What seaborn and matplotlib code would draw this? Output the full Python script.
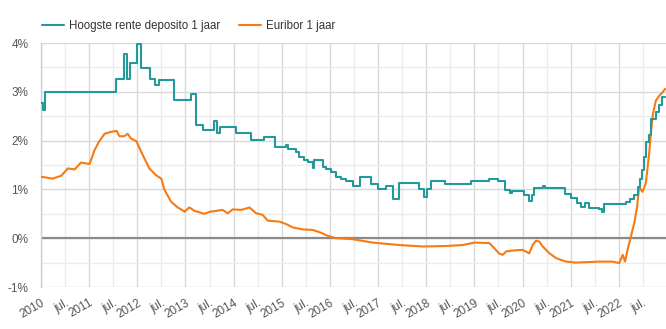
import matplotlib
matplotlib.use("Agg")
import matplotlib.pyplot as plt
import seaborn as sns
import pandas as pd
import numpy as np

# Hoogste rente deposito 1 jaar (step series: year, %)
dep_year = [2010.00, 2010.04, 2010.09, 2011.55, 2011.72, 2011.79, 2011.84, 2012.00, 2012.08,
            2012.27, 2012.36, 2012.45, 2012.77, 2013.12, 2013.22, 2013.36, 2013.60, 2013.65,
            2013.71, 2014.06, 2014.36, 2014.64, 2014.86, 2015.09, 2015.12, 2015.30, 2015.35,
            2015.47, 2015.54, 2015.64, 2015.68, 2015.85, 2015.92, 2016.02, 2016.13, 2016.23,
            2016.34, 2016.47, 2016.63, 2016.85, 2016.99, 2017.17, 2017.30, 2017.43, 2017.84,
            2017.96, 2018.02, 2018.10, 2018.38, 2018.93, 2019.31, 2019.50, 2019.64, 2019.74,
            2019.79, 2020.04, 2020.13, 2020.19, 2020.24, 2020.42, 2020.47, 2020.89, 2021.01,
            2021.14, 2021.21, 2021.30, 2021.39, 2021.59, 2021.66, 2021.70, 2022.15, 2022.24,
            2022.32, 2022.39, 2022.45, 2022.49, 2022.53, 2022.56, 2022.63, 2022.67, 2022.77,
            2022.84, 2022.90, 2022.96]
dep_rate = [2.77, 2.62, 3.00, 3.27, 3.78, 3.27, 3.58, 3.97, 3.48,
            3.27, 3.13, 3.24, 2.83, 2.96, 2.31, 2.22, 2.41, 2.16,
            2.28, 2.16, 2.01, 2.07, 1.87, 1.92, 1.82, 1.77, 1.67,
            1.61, 1.56, 1.43, 1.61, 1.46, 1.41, 1.36, 1.26, 1.22,
            1.17, 1.07, 1.26, 1.11, 1.01, 1.07, 0.80, 1.13, 1.01,
            0.84, 1.01, 1.17, 1.12, 1.17, 1.22, 1.17, 0.99, 0.92,
            0.97, 0.88, 0.77, 0.88, 1.02, 1.07, 1.02, 0.90, 0.82,
            0.73, 0.63, 0.73, 0.62, 0.59, 0.53, 0.70, 0.75, 0.80,
            0.88, 1.05, 1.22, 1.39, 1.67, 1.97, 2.11, 2.45, 2.58,
            2.72, 2.89, 2.89]

# Euribor 1 jaar (year, %)
eur_year = [2010.00, 2010.24, 2010.42, 2010.56, 2010.70, 2010.83, 2011.01, 2011.11, 2011.20,
            2011.32, 2011.46, 2011.57, 2011.63, 2011.73, 2011.80, 2011.87, 2011.98, 2012.08,
            2012.25, 2012.39, 2012.50, 2012.56, 2012.70, 2012.84, 2012.96, 2012.98, 2013.08,
            2013.19, 2013.39, 2013.50, 2013.77, 2013.88, 2013.98, 2014.16, 2014.33, 2014.47,
            2014.60, 2014.71, 2014.95, 2015.09, 2015.23, 2015.43, 2015.64, 2015.82, 2015.95,
            2016.13, 2016.47, 2016.89, 2017.44, 2017.93, 2018.41, 2018.76, 2019.00, 2019.31,
            2019.41, 2019.52, 2019.59, 2019.66, 2019.83, 2020.00, 2020.14, 2020.21, 2020.28,
            2020.35, 2020.42, 2020.56, 2020.70, 2020.90, 2021.11, 2021.59, 2021.87, 2022.01,
            2022.08, 2022.13, 2022.18, 2022.25, 2022.32, 2022.38, 2022.42, 2022.49, 2022.56,
            2022.63, 2022.67, 2022.71, 2022.77, 2022.84, 2022.91, 2022.96]
eur_rate = [1.26, 1.22, 1.28, 1.43, 1.41, 1.55, 1.52, 1.80, 1.97,
            2.14, 2.18, 2.20, 2.09, 2.09, 2.14, 2.04, 1.99, 1.77,
            1.43, 1.29, 1.22, 1.00, 0.75, 0.63, 0.56, 0.54, 0.63,
            0.56, 0.50, 0.54, 0.58, 0.51, 0.59, 0.58, 0.63, 0.51,
            0.48, 0.36, 0.34, 0.29, 0.22, 0.18, 0.17, 0.11, 0.05,
            0.00, -0.02, -0.09, -0.14, -0.17, -0.16, -0.14, -0.09, -0.10,
            -0.20, -0.32, -0.34, -0.27, -0.25, -0.24, -0.31, -0.14, -0.05,
            -0.07, -0.17, -0.31, -0.41, -0.48, -0.50, -0.48, -0.48, -0.51,
            -0.34, -0.48, -0.24, 0.03, 0.31, 0.64, 1.05, 0.95, 1.12,
            1.73, 2.21, 2.55, 2.82, 2.92, 2.99, 3.06]

year_ticks = list(range(2010, 2023))
year_labels = [str(y) for y in year_ticks]
half_ticks = [y + 0.5 for y in year_ticks]
half_labels = ["jul."] * len(half_ticks)
y_ticks = [-1, 0, 1, 2, 3, 4]
y_labels = ["-1%", "0%", "1%", "2%", "3%", "4%"]

teal = "#23999a"
orange = "#f77a12"

sns.set_theme(style="white")
plt.rcParams["font.family"] = ["Liberation Sans", "DejaVu Sans"]

fig = plt.figure(figsize=(6.66, 3.29), dpi=100)
ax = fig.add_axes([41 / 666, 1 - 287 / 329, 1 - 41 / 666, (287 - 43) / 329])

dep_df = pd.DataFrame({"jaar": dep_year, "rente": dep_rate})
eur_df = pd.DataFrame({"jaar": eur_year, "rente": eur_rate})

sns.lineplot(data=dep_df, x="jaar", y="rente", ax=ax, color=teal, lw=1.5,
             drawstyle="steps-post", label="Hoogste rente deposito 1 jaar", zorder=4)
sns.lineplot(data=eur_df, x="jaar", y="rente", ax=ax, color=orange, lw=1.5,
             label="Euribor 1 jaar", zorder=3)

ax.set_xlim(2010, 2022.98)
ax.set_ylim(-1, 4)
ax.set_xlabel("")
ax.set_ylabel("")

ax.set_xticks(year_ticks)
ax.set_xticklabels(year_labels)
ax.set_xticks(half_ticks, minor=True)
ax.set_xticklabels(half_labels, minor=True)
ax.set_yticks(y_ticks)
ax.set_yticklabels(y_labels)
ax.set_yticks([-0.5, 0.5, 1.5, 2.5, 3.5], minor=True)

for lab in ax.get_xticklabels(minor=False) + ax.get_xticklabels(minor=True):
    lab.set_rotation(30)
    lab.set_ha("right")
    lab.set_rotation_mode("anchor")
ax.tick_params(axis="x", which="both", length=0, pad=7, labelsize=8.5, labelcolor="#555555")
ax.tick_params(axis="y", which="both", length=0, pad=9, labelsize=8.5, labelcolor="#555555")

ax.grid(True, which="major", color="#d9d9d9", lw=1.0)
ax.grid(True, which="minor", color="#ececec", lw=1.0)
ax.set_axisbelow(True)
ax.axhline(0, color="#8a8a8a", lw=1.6, zorder=2)

for s in ["top", "right", "bottom"]:
    ax.spines[s].set_visible(False)
ax.spines["left"].set_color("#d0d0d0")
ax.spines["left"].set_linewidth(1.0)

handles, labels = ax.get_legend_handles_labels()
ax.legend_.remove()
fig.legend(handles, labels, loc="upper left", bbox_to_anchor=(0.047, 0.972), ncol=2,
           frameon=False, fontsize=8.3, handlelength=1.9, columnspacing=1.65,
           handletextpad=0.45, labelcolor="#333333")

fig.savefig("out.png", dpi=100)
